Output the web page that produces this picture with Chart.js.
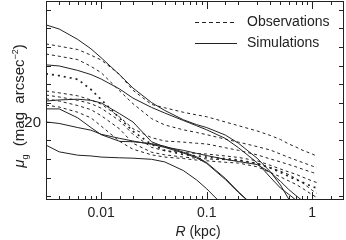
<!DOCTYPE html>
<html>
<head>
<meta charset="utf-8">
<script src="https://cdn.jsdelivr.net/npm/chart.js@4.4.0/dist/chart.umd.min.js"></script>
<style>
  html, body { margin: 0; padding: 0; background: #fff; }
</style>
</head>
<body>
<canvas id="profileChart" width="346" height="240"></canvas>
<script>
// radius grid (kpc) shared by every profile
const radius = [0.003, 0.004, 0.006, 0.008, 0.01, 0.015, 0.02, 0.03, 0.04, 0.06, 0.08,
                0.1, 0.15, 0.2, 0.3, 0.4, 0.5, 0.6, 0.7, 0.8, 1.0, 1.1];

// observed profiles, mu_g (mag arcsec^-2)
const obs1 = [17.92, 17.98, 18.07, 18.22, 18.35, 18.74, 19.16, 19.54, 19.63, 19.75, 19.82, 19.87, 20.01, 20.11, 20.25, 20.37, 20.48, 20.60, 20.68, 20.76, 20.87, 20.92];
const obs2 = [18.19, 18.25, 18.34, 18.52, 18.69, 19.18, 19.52, 19.92, 20.09, 20.22, 20.29, 20.35, 20.47, 20.55, 20.67, 20.76, 20.87, 20.96, 21.03, 21.09, 21.19, 21.24];
const obs3 = [18.72, 18.77, 18.87, 19.14, 19.41, 19.91, 20.26, 20.61, 20.77, 20.88, 20.92, 20.95, 20.99, 21.03, 21.12, 21.24, 21.36, 21.47, 21.55, 21.62, 21.74, 21.78];
const obs4 = [19.18, 19.23, 19.31, 19.42, 19.53, 19.88, 20.19, 20.43, 20.52, 20.55, 20.58, 20.60, 20.70, 20.77, 20.89, 21.00, 21.08, 21.15, 21.21, 21.27, 21.36, 21.40];
const obs5 = [19.29, 19.34, 19.43, 19.52, 19.64, 19.98, 20.34, 20.69, 20.78, 20.83, 20.85, 20.87, 20.92, 20.96, 21.05, 21.17, 21.27, 21.35, 21.41, 21.48, 21.59, 21.63];
const obs6 = [19.39, 19.45, 19.57, 19.68, 19.84, 20.20, 20.58, 20.82, 20.89, 20.95, 20.98, 21.00, 21.02, 21.04, 21.12, 21.23, 21.33, 21.42, 21.53, 21.63, 21.84, 21.92];
const obs7 = [19.56, 19.61, 19.75, 19.90, 20.12, 20.53, 20.74, 20.89, 20.95, 20.99, 21.03, 21.05, 21.09, 21.11, 21.21, 21.36, 21.48, 21.59, 21.68, 21.78, 21.96, 22.03];

// simulated profiles
const sim1 = [17.41, 17.52, 17.80, 18.05, 18.29, 18.75, 19.10, 19.49, 19.70, 19.95, 20.08, 20.16, 20.36, 20.58, 20.98, 21.34, 21.70, 22.08, 22.40, null, null, null];
const sim2 = [18.48, 18.51, 18.63, 18.74, 18.86, 19.13, 19.37, 19.62, 19.77, 19.97, 20.11, 20.22, 20.45, 20.70, 21.10, 21.49, 21.78, 21.95, 22.10, 22.30, null, null];
const sim3 = [19.45, 19.42, 19.40, 19.43, 19.50, 19.79, 20.01, 20.54, 20.68, 20.77, 20.85, 20.91, 21.01, 21.07, 21.15, 21.36, 21.60, 21.82, 21.98, 22.11, 22.45, null];
const sim4 = [19.66, 19.66, 19.90, 20.16, 20.35, 20.53, 20.54, 20.59, 20.66, 20.82, 20.94, 21.10, 21.52, 21.88, 22.35, null, null, null, null, null, null, null];
const sim5 = [20.01, 20.05, 20.16, 20.23, 20.34, 20.45, 20.52, 20.61, 20.69, 20.84, 20.97, 21.12, 21.55, 21.90, 22.35, null, null, null, null, null, null, null];
const sim6 = [20.63, 20.81, 20.90, 20.92, 20.95, 20.97, 20.98, 21.01, 21.08, 21.31, 21.56, 21.80, 22.30, null, null, null, null, null, null, null, null, null];

const xTickLabels = [0.01, 0.1, 1];
const yTickLabels = [20];

const observed = [obs1, obs2, obs3, obs4, obs5, obs6, obs7];
const simulated = [sim1, sim2, sim3, sim4, sim5, sim6];

const ink = '#222';
const fam = '"Liberation Sans", Arial, sans-serif';

function toPoints(values) {
    return radius.map((r, i) => ({ x: r, y: values[i] }));
}

const datasets = [];
observed.forEach((vals, i) => {
    datasets.push({
        label: 'Observations',
        data: toPoints(vals),
        borderColor: ink,
        borderWidth: i === 2 ? 1.7 : 1,
        borderDash: i === 2 ? [2, 4] : [3, 3],
        pointRadius: 0,
        fill: false,
        tension: 0
    });
});
simulated.forEach(vals => {
    datasets.push({
        label: 'Simulations',
        data: toPoints(vals),
        borderColor: ink,
        borderWidth: 1,
        pointRadius: 0,
        fill: false,
        tension: 0
    });
});

// frame, inward ticks, tick labels, axis titles and legend
const decorations = {
    id: 'decorations',
    afterDraw(chart) {
        const ctx = chart.ctx;
        const a = chart.chartArea;
        const xs = chart.scales.x;
        const ys = chart.scales.y;
        ctx.save();
        ctx.strokeStyle = ink;
        ctx.lineWidth = 1;
        ctx.strokeRect(a.left + 0.5, a.top + 0.5, a.right - a.left - 1, a.bottom - a.top - 1);

        ctx.beginPath();
        xs.ticks.forEach(t => {
            const px = Math.round(xs.getPixelForValue(t.value)) + 0.5;
            if (px <= a.left + 1 || px >= a.right - 1) return;
            const major = Math.abs(Math.log10(t.value) - Math.round(Math.log10(t.value))) < 1e-6;
            const len = major ? 8 : 4;
            ctx.moveTo(px, a.bottom);
            ctx.lineTo(px, a.bottom - len);
            ctx.moveTo(px, a.top);
            ctx.lineTo(px, a.top + len);
        });
        for (let v = 17; v <= 22; v += 0.5) {
            const py = Math.round(ys.getPixelForValue(v)) + 0.5;
            if (py <= a.top + 1 || py >= a.bottom - 1) continue;
            ctx.moveTo(a.left, py);
            ctx.lineTo(a.left + 5, py);
            ctx.moveTo(a.right, py);
            ctx.lineTo(a.right - 5, py);
        }
        ctx.stroke();

        ctx.fillStyle = ink;
        // tick labels
        ctx.font = '14px ' + fam;
        ctx.textAlign = 'center';
        ctx.textBaseline = 'middle';
        xTickLabels.forEach(v => ctx.fillText(String(v), xs.getPixelForValue(v), 213));
        ctx.font = '15px ' + fam;
        ctx.textAlign = 'right';
        yTickLabels.forEach(v => ctx.fillText(String(v), 41, ys.getPixelForValue(v) + 1));

        // x title
        ctx.textBaseline = 'alphabetic';
        ctx.textAlign = 'left';
        const cx = (a.left + a.right) / 2 + 3;
        ctx.font = 'italic 14px ' + fam;
        const wR = ctx.measureText('R').width;
        ctx.font = '14px ' + fam;
        const wRest = ctx.measureText(' (kpc)').width;
        let x0 = cx - (wR + wRest) / 2;
        ctx.font = 'italic 14px ' + fam;
        ctx.fillText('R', x0, 236);
        ctx.font = '14px ' + fam;
        ctx.fillText(' (kpc)', x0 + wR, 236);

        // y title, rotated
        const parts = [
            { t: 'μ', font: 'italic 15px ' + fam, dy: 0 },
            { t: 'g', font: '9px ' + fam, dy: 4 },
            { t: '  (mag  arcsec', font: '15px ' + fam, dy: 0 },
            { t: '−2', font: '9px ' + fam, dy: -6 },
            { t: ')', font: '15px ' + fam, dy: 0 }
        ];
        let total = 0;
        parts.forEach(p => { ctx.font = p.font; p.w = ctx.measureText(p.t).width; total += p.w; });
        ctx.save();
        ctx.translate(24, 106);
        ctx.rotate(-Math.PI / 2);
        let pos = -total / 2;
        parts.forEach(p => {
            ctx.font = p.font;
            ctx.fillText(p.t, pos, p.dy);
            pos += p.w;
        });
        ctx.restore();

        // legend
        const rows = [
            { label: 'Observations', dash: [4, 3], y: 22 },
            { label: 'Simulations', dash: [], y: 43 }
        ];
        ctx.font = '14px ' + fam;
        ctx.textBaseline = 'middle';
        rows.forEach(r => {
            ctx.beginPath();
            ctx.setLineDash(r.dash);
            ctx.moveTo(195, r.y + 0.5);
            ctx.lineTo(237, r.y + 0.5);
            ctx.stroke();
            ctx.fillText(r.label, 247, r.y);
        });
        ctx.setLineDash([]);
        ctx.restore();
    }
};

new Chart(document.getElementById('profileChart').getContext('2d'), {
    type: 'line',
    data: { datasets: datasets },
    options: {
        responsive: false,
        animation: false,
        devicePixelRatio: 1,
        layout: { padding: { top: 1, right: 2, left: 0, bottom: 0 } },
        plugins: { legend: { display: false }, tooltip: { enabled: false } },
        scales: {
            x: {
                type: 'logarithmic',
                min: 0.003,
                max: 2,
                grid: { display: false, drawTicks: false },
                border: { display: false },
                ticks: { display: false },
                afterFit: s => { s.height = 40; }
            },
            y: {
                type: 'linear',
                reverse: true,
                min: 16.77,
                max: 22.1,
                grid: { display: false, drawTicks: false },
                border: { display: false },
                ticks: { display: false },
                afterFit: s => { s.width = 46; }
            }
        }
    },
    plugins: [decorations]
});
</script>
</body>
</html>
